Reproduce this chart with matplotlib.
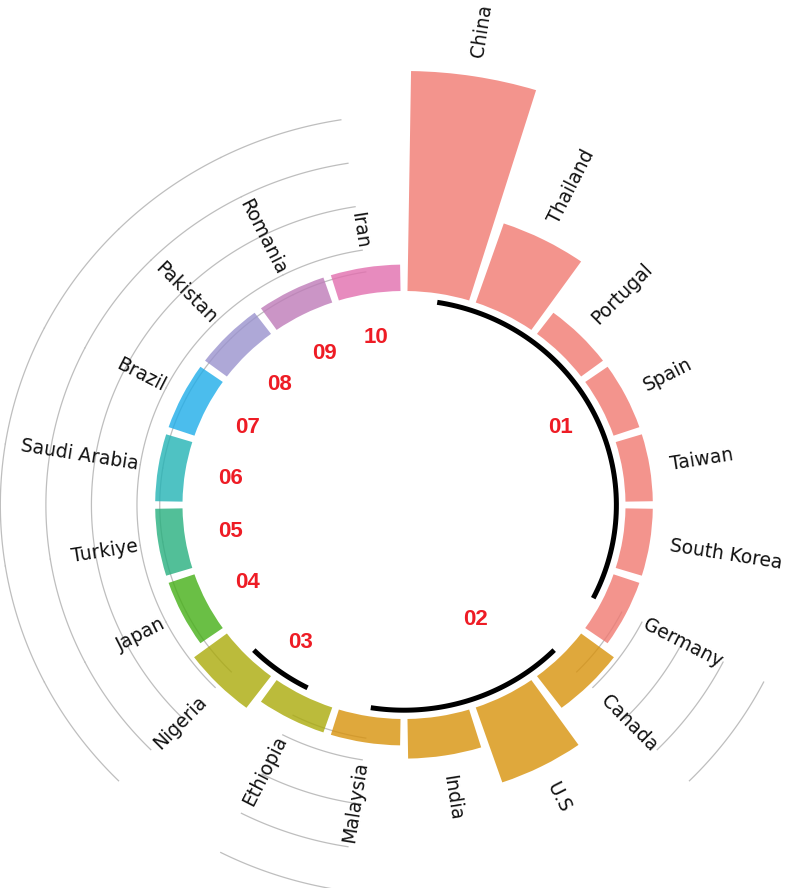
import numpy as np
import matplotlib.pyplot as plt

#%% data
countries = ['China', 'Thailand', 'Portugal', 'Spain', 'Taiwan', 'South Korea', 'Germany',
             'Canada', 'U.S', 'India', 'Malaysia',
             'Ethiopia', 'Nigeria',
             'Japan', 'Turkiye', 'Saudi Arabia', 'Brazil', 'Pakistan', 'Romania', 'Iran']
values = [50, 19, 6, 6, 6, 6, 6,
          9, 18, 9, 6,
          6, 9,
          6, 6, 6, 6, 6, 6, 6]
groups = ['01'] * 7 + ['02'] * 4 + ['03'] * 2 + ['04', '05', '06', '07', '08', '09', '10']
group_names = ['01', '02', '03', '04', '05', '06', '07', '08', '09', '10']
group_colors = ['#F07971', '#D8920B', '#AAAA0A', '#45AF16', '#27AF7E',
                '#23B3B5', '#1EADE9', '#9A92CE', '#BE7BB8', '#E26EAE']
grid_levels = [5, 10, 20, 30, 40]

#%% layout
n = len(countries)
ids = np.arange(1, n + 1)
step = 2 * np.pi / n
theta = (ids - 0.5) * step
hole = 214 / 4.4     # empty centre, in value units
ymax = 65

fig = plt.figure(figsize=(8, 8.88), dpi=100)
# polar axes slightly wider than tall (the reference is stretched horizontally)
cx, cy, rv = 404, 383, 4.4 * (ymax + hole)
rh = rv * 1.035
ax = fig.add_axes([(cx - rh) / 800, (cy - rv) / 888, 2 * rh / 800, 2 * rv / 888],
                  projection='polar')
ax.set_aspect('auto')
ax.set_theta_zero_location('N')
ax.set_theta_direction(-1)
ax.set_ylim(-20, ymax)
ax.set_rorigin(-hole)
ax.set_axis_off()

# group start / end ids
starts, ends = [], []
for g in group_names:
    gi = [i for i, gg in zip(ids, groups) if gg == g]
    starts.append(min(gi))
    ends.append(max(gi))

def ang(x):
    return (x - 0.5) * step

#%% grid segments between groups
for k in range(1, len(group_names)):
    a0, a1 = ang(ends[k - 1] + 1), ang(starts[k] - 1)
    tt = np.linspace(a0, a1, 60)
    for lev in grid_levels:
        ax.plot(tt, np.full_like(tt, lev), color='#BEBEBE', lw=0.9, zorder=1)

#%% bars
col = [group_colors[group_names.index(g)] for g in groups]
ax.bar(theta, values, width=0.9 * step, bottom=0, color=col, alpha=0.8,
       linewidth=0, zorder=2)

#%% country labels
for t, v, name in zip(theta, values, countries):
    deg = np.degrees(t)
    if deg < 180:
        rot, ha = 90 - deg, 'left'
    else:
        rot, ha = 270 - deg, 'right'
    ax.text(t, v + 4.5, name, rotation=rot, rotation_mode='anchor', ha=ha, va='center',
            fontsize=13.5, color='#111111', family='DejaVu Sans', clip_on=False)

#%% group base lines and numbers
label_nudge = {'02': (-13, -8.2)}   # degrees, value units
for g, s, e in zip(group_names, starts, ends):
    if e > s:
        tt = np.linspace(ang(s), ang(e), 80)
        ax.plot(tt, np.full_like(tt, -2), color='black', lw=3.6,
                solid_capstyle='butt', zorder=3, clip_on=False)
    da, dr = label_nudge.get(g, (0, 0))
    ax.text(ang((s + e) / 2) + np.radians(da), -10 + dr, g, color='#EE1C25',
            fontsize=16, fontweight='bold', family='Liberation Sans',
            ha='center', va='center')

fig.savefig('out.png', dpi=100)
